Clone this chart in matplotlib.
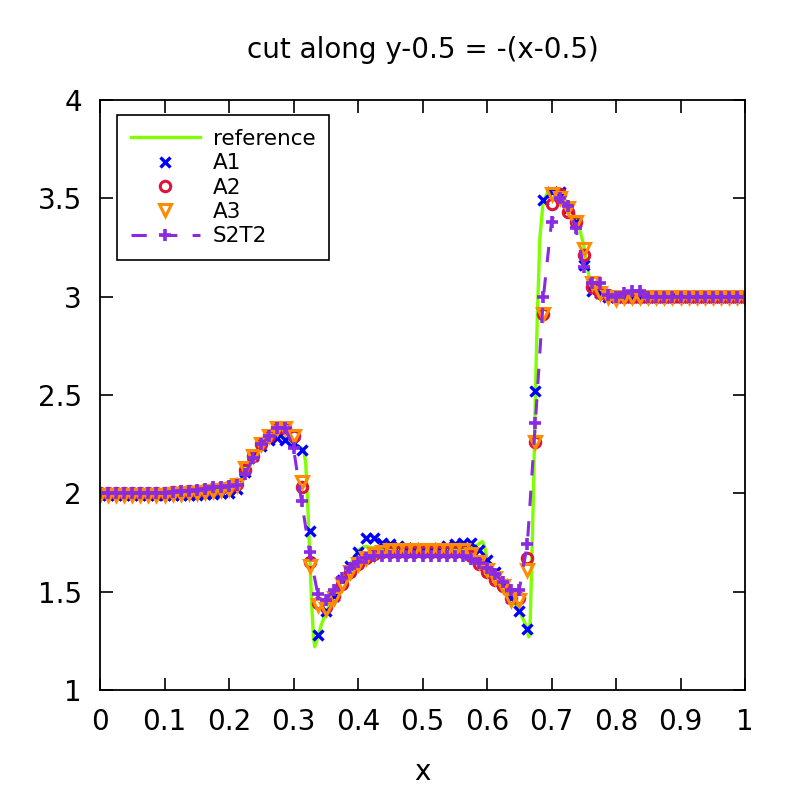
import numpy as np
import matplotlib
matplotlib.use("Agg")
import matplotlib.pyplot as plt

# sample positions along the cut (same grid for every scheme)
x_pts = np.arange(81) / 80.0

a1 = [1.99, 1.99, 1.99, 1.99, 1.99, 1.99, 1.99, 1.99, 1.99, 1.99,
      1.99, 1.99, 1.99, 1.995, 1.995, 2.0, 2.0, 2.02, 2.11, 2.19,
      2.24, 2.27, 2.28, 2.27, 2.255, 2.22, 1.81, 1.28, 1.40, 1.48,
      1.56, 1.63, 1.70, 1.775, 1.775, 1.75, 1.74, 1.73, 1.72, 1.72,
      1.715, 1.715, 1.72, 1.73, 1.74, 1.75, 1.75, 1.71, 1.66, 1.60,
      1.54, 1.47, 1.40, 1.31, 2.52, 3.49, 3.53, 3.53, 3.45, 3.38,
      3.16, 3.03, 3.02, 3.0, 3.0, 3.0, 3.0, 3.0, 3.0, 3.0,
      3.0, 3.0, 3.0, 3.0, 3.0, 3.0, 3.0, 3.0, 3.0, 3.0, 3.0]

a2 = [2.0, 2.0, 2.0, 2.0, 2.0, 2.0, 2.0, 2.0, 2.0, 2.005,
      2.005, 2.01, 2.01, 2.015, 2.02, 2.025, 2.03, 2.05, 2.12, 2.19,
      2.25, 2.29, 2.33, 2.33, 2.29, 2.03, 1.65, 1.44, 1.42, 1.48,
      1.54, 1.60, 1.64, 1.67, 1.69, 1.70, 1.70, 1.70, 1.70, 1.70,
      1.70, 1.70, 1.70, 1.70, 1.70, 1.70, 1.68, 1.64, 1.60, 1.56,
      1.53, 1.47, 1.47, 1.67, 2.26, 2.91, 3.47, 3.52, 3.43, 3.38,
      3.21, 3.05, 3.02, 3.01, 3.0, 3.0, 3.0, 3.0, 3.0, 3.0,
      3.0, 3.0, 3.0, 3.0, 3.0, 3.0, 3.0, 3.0, 3.0, 3.0, 3.0]

a3 = [1.99, 1.99, 1.99, 1.99, 1.99, 1.99, 1.99, 1.99, 1.99, 1.995,
      1.995, 2.0, 2.0, 2.005, 2.01, 2.015, 2.02, 2.04, 2.13, 2.19,
      2.25, 2.29, 2.33, 2.33, 2.29, 2.06, 1.63, 1.43, 1.41, 1.47,
      1.54, 1.60, 1.64, 1.67, 1.69, 1.70, 1.71, 1.71, 1.71, 1.71,
      1.71, 1.71, 1.71, 1.71, 1.71, 1.71, 1.69, 1.65, 1.61, 1.57,
      1.53, 1.46, 1.46, 1.61, 2.26, 2.91, 3.52, 3.50, 3.45, 3.38,
      3.24, 3.07, 3.02, 3.0, 2.99, 3.0, 3.0, 3.0, 3.0, 3.0,
      3.0, 3.0, 3.0, 3.0, 3.0, 3.0, 3.0, 3.0, 3.0, 3.0, 3.0]

s2t2 = [2.0, 2.0, 2.0, 2.0, 2.0, 2.0, 2.0, 2.0, 2.0, 2.005,
        2.01, 2.01, 2.015, 2.02, 2.03, 2.03, 2.035, 2.04, 2.10, 2.18,
        2.25, 2.29, 2.33, 2.33, 2.23, 1.96, 1.70, 1.49, 1.46, 1.51,
        1.57, 1.62, 1.65, 1.67, 1.68, 1.68, 1.68, 1.68, 1.68, 1.68,
        1.68, 1.68, 1.68, 1.68, 1.68, 1.68, 1.665, 1.645, 1.62, 1.59,
        1.55, 1.51, 1.51, 1.74, 2.36, 3.0, 3.38, 3.50, 3.46, 3.35,
        3.15, 3.07, 3.07, 3.01, 3.0, 3.02, 3.03, 3.03, 3.0, 3.0,
        3.0, 3.0, 3.0, 3.0, 3.0, 3.0, 3.0, 3.0, 3.0, 3.0, 3.0]

# fine reference solution
ref_x = [0.0, 0.1, 0.15, 0.2, 0.212, 0.218, 0.224, 0.232, 0.24, 0.25,
         0.26, 0.27, 0.28, 0.29, 0.30, 0.31, 0.316, 0.319, 0.322, 0.325,
         0.328, 0.331, 0.333, 0.337, 0.343, 0.35, 0.36, 0.37, 0.38, 0.39,
         0.40, 0.41, 0.42, 0.44, 0.50, 0.56, 0.58, 0.588, 0.593, 0.597,
         0.601, 0.61, 0.625, 0.64, 0.652, 0.66, 0.665, 0.667, 0.669, 0.672,
         0.675, 0.678, 0.682, 0.687, 0.695, 0.71, 0.724, 0.735, 0.744, 0.75,
         0.755, 0.76, 0.766, 0.78, 0.8, 1.0]
ref_y = [2.0, 2.0, 2.01, 2.02, 2.03, 2.06, 2.12, 2.17, 2.20, 2.24,
         2.27, 2.285, 2.29, 2.275, 2.25, 2.235, 2.22, 2.15, 1.95, 1.70,
         1.45, 1.27, 1.22, 1.26, 1.33, 1.39, 1.46, 1.53, 1.59, 1.65,
         1.71, 1.73, 1.725, 1.715, 1.71, 1.715, 1.725, 1.745, 1.755, 1.72,
         1.65, 1.61, 1.54, 1.46, 1.39, 1.33, 1.27, 1.35, 1.6, 2.0,
         2.5, 2.9, 3.3, 3.48, 3.54, 3.535, 3.48, 3.42, 3.34, 3.26,
         3.17, 3.06, 3.02, 3.005, 3.0, 3.0]

fig = plt.figure(figsize=(8, 8), dpi=100)
ax = fig.add_axes([0.125, 0.1375, 0.80625, 0.7375])

ax.plot(ref_x, ref_y, color='#7fff00', lw=2.4, label='reference')
ax.plot(x_pts, a1, ls='none', marker='x', ms=6.5, mew=2.4, color='#0000ff', label='A1')
ax.plot(x_pts, a2, ls='none', marker='o', ms=7.5, mew=2.2, mfc='none', color='#dc143c', label='A2')
ax.plot(x_pts, a3, ls='none', marker='v', ms=8, mew=2.2, mfc='none', color='#ff8c00', label='A3')
ax.plot(x_pts, s2t2, ls=(0, (5, 5)), lw=2.2, marker='+', ms=8, mew=2.6, color='#8a2be2', label='S2T2')

ax.set_xlim(0, 1)
ax.set_ylim(1, 4)
ax.set_xticks(np.arange(0, 1.01, 0.1))
ax.set_xticklabels(['0', '0.1', '0.2', '0.3', '0.4', '0.5', '0.6', '0.7', '0.8', '0.9', '1'])
ax.set_yticks([1, 1.5, 2, 2.5, 3, 3.5, 4])
ax.set_yticklabels(['1', '1.5', '2', '2.5', '3', '3.5', '4'])
ax.tick_params(direction='in', length=9, width=1.2, top=True, right=True,
               labelsize=20, pad=13)
for s in ax.spines.values():
    s.set_linewidth(1.3)

ax.set_title('cut along y-0.5 = -(x-0.5)', fontsize=20, pad=30)
ax.set_xlabel('x', fontsize=20, labelpad=16)

leg = ax.legend(loc='upper left', bbox_to_anchor=(0.0264, 0.9746), borderaxespad=0,
                fontsize=15.5, fancybox=False, framealpha=1, edgecolor='black',
                handlelength=3.2, handletextpad=0.6, numpoints=1,
                borderpad=0.65, labelspacing=0.2)
leg.get_frame().set_linewidth(1.2)

fig.savefig('out.png', dpi=100)
